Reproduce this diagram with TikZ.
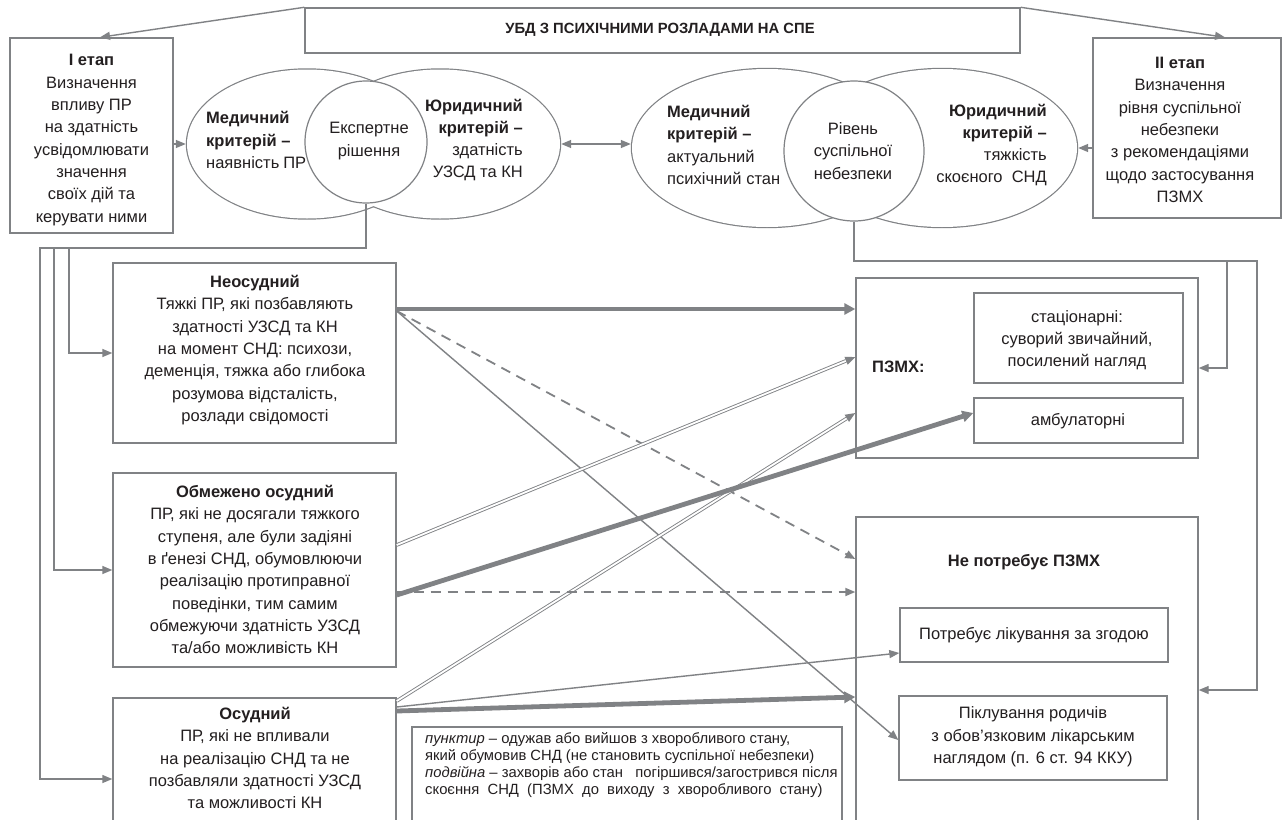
\documentclass[tikz,border=0pt]{standalone}
\usepackage{fontspec}
\setmainfont{Liberation Sans}
\usetikzlibrary{arrows.meta,calc,shapes.geometric}
\definecolor{lc}{RGB}{128,130,133}
\definecolor{tc}{RGB}{35,31,32}
\newcommand\fmain{\fontsize{16.5}{22.3}\selectfont}
\newcommand\flegend{\fontsize{14.8}{16.7}\selectfont}
\newcommand\ftitle{\fontsize{14.8}{20}\selectfont\bfseries}
\begin{document}
\begin{tikzpicture}[x=1pt,y=-1pt,
  box/.style={draw=lc, line width=1.4pt, inner sep=0pt},
  txt/.style={text=tc, font=\fmain, align=center, inner sep=0pt},
  conn/.style={draw=lc, line width=1.4pt},
  arr/.style={-{Triangle[length=10pt,width=8pt]}},
  thickarr/.style={draw=lc, line width=4.8pt, -{Triangle[length=11pt,width=11pt]}},
  dasharr/.style={draw=lc, line width=1.8pt, dash pattern=on 10pt off 7pt, -{Triangle[length=10pt,width=8pt]}},
  dbl/.style={draw=lc, line width=0.9pt, double=white, double distance=1.8pt, shorten >=10pt},
  ell/.style={shape=ellipse, draw=lc, fill=white, line width=2.4pt, inner sep=0pt},
  circ/.style={shape=circle, draw=lc, fill=white, line width=1.2pt, inner sep=0pt}
]
\fill[white] (0,0) rectangle (1284,819);
\useasboundingbox (0,0) rectangle (1284,819);

% ---- title and stage boxes
\node[box, minimum width=715pt, minimum height=45pt] (title) at (662.5,30.5) {};
\node[txt, font=\ftitle] (titlet) at (660,30) {УБД З ПСИХІЧНИМИ РОЗЛАДАМИ НА СПЕ};

\node[box, minimum width=163pt, minimum height=195pt] (ietap) at (91.5,135.5) {};
\node[txt] (ietapt) at (91.5,140) {\textbf{І етап}\\Визначення\\впливу ПР\\на здатність\\усвідомлювати\\значення\\своїх дій та\\керувати ними};

\node[box, minimum width=188pt, minimum height=180pt] (iietap) at (1187,128) {};
\node[txt] (iietapt) at (1180,130) {\textbf{ІІ етап}\\Визначення\\рівня суспільної\\небезпеки\\з рекомендаціями\\щодо застосування\\ПЗМХ};

% ---- left ellipse pair
\node[ell, minimum width=240pt, minimum height=149pt] (e1) at (307,144) {};
\node[ell, minimum width=240pt, minimum height=149pt] (e2) at (440,144) {};
\fill[white] (e1.center) ellipse [x radius=120, y radius=74.5];
\fill[white] (e2.center) ellipse [x radius=120, y radius=74.5];
\node[circ, minimum size=122pt] (eks) at (366,142) {};
\node[txt, anchor=west, align=left] (e1t) at (206,140) {\textbf{Медичний}\\\textbf{критерій –}\\наявність\hspace{4pt}ПР};
\node[txt] (ekst) at (369,141) {Експертне\\рішення};
\node[txt, anchor=east, align=right] (e2t) at (523,140) {\textbf{Юридичний}\\\textbf{критерій –}\\здатність\\УЗСД та КН};

% ---- right ellipse pair
\node[ell, minimum width=270pt, minimum height=158pt] (e3) at (767,148) {};
\node[ell, minimum width=270pt, minimum height=158pt] (e4) at (942,148) {};
\fill[white] (e3.center) ellipse [x radius=135, y radius=79];
\fill[white] (e4.center) ellipse [x radius=135, y radius=79];
\node[circ, minimum size=140pt] (riv) at (854,151) {};
\node[txt, anchor=west, align=left] (e3t) at (667,145) {\textbf{Медичний}\\\textbf{критерій –}\\актуальний\\психічний стан};
\node[txt] (rivt) at (853,151) {Рівень\\суспільної\\небезпеки};
\node[txt, anchor=east, align=right] (e4t) at (1047,145) {\textbf{Юридичний}\\\textbf{критерій –}\\тяжкість\\скоєного\ \ СНД};

% ---- left column boxes
\node[box, minimum width=283pt, minimum height=180pt] (neo) at (254.5,353) {};
\node[txt] (neot) at (255,350) {\textbf{Неосудний}\\Тяжкі ПР, які позбавляють\\здатності УЗСД та КН\\на момент СНД: психози,\\деменція, тяжка або глибока\\розумова відсталість,\\розлади свідомості};

\node[box, minimum width=283pt, minimum height=194pt] (obm) at (254.5,570) {};
\node[txt] (obmt) at (255,569.5) {\textbf{Обмежено осудний}\\ПР, які не досягали тяжкого\\ступеня, але були задіяні\\в ґенезі СНД, обумовлюючи\\реалізацію протиправної\\поведінки, тим самим\\обмежуючи здатність УЗСД\\та/або можливість КН};

\node[box, minimum width=283pt, minimum height=140pt] (osud) at (254.5,768) {};
\node[txt] (osudt) at (255,758) {\textbf{Осудний}\\ПР, які не впливали\\на реалізацію СНД та не\\позбавляли здатності УЗСД\\та можливості КН};

% ---- right column boxes
\node[box, minimum width=342pt, minimum height=180pt] (pzmh) at (1027,368) {};
\node[txt, anchor=west] (pzmht) at (872,367) {\textbf{ПЗМХ:}};
\node[box, minimum width=209pt, minimum height=90pt] (stac) at (1078.5,338) {};
\node[txt] (stact) at (1077,340) {стаціонарні:\\суворий звичайний,\\посилений нагляд};
\node[box, minimum width=209pt, minimum height=45pt] (amb) at (1078.5,420.5) {};
\node[txt] (ambt) at (1078,421) {амбулаторні};

\node[box, minimum width=342pt, minimum height=330pt] (nep) at (1027,682) {};
\node[txt] (nept) at (1024,562) {\textbf{Не потребує ПЗМХ}};
\node[box, minimum width=268pt, minimum height=54pt] (potr) at (1034,635) {};
\node[txt] (potrt) at (1034,635) {Потребує лікування за згодою};
\node[box, minimum width=268pt, minimum height=84pt] (pik) at (1033,738) {};
\node[txt] (pikt) at (1033,737) {Піклування родичів\\з обов’язковим лікарським\\наглядом (п. 6 ст. 94 ККУ)};

% ---- legend
\node[box, minimum width=430pt, minimum height=120pt] (leg) at (627,787) {};
\node[txt, font=\flegend, anchor=west, align=left] (legt) at (425,765) {\textit{пунктир} – одужав або вийшов з хворобливого стану,\\який обумовив СНД (не становить суспільної небезпеки)\\\textit{подвійна} – захворів або стан\ \ \ погіршився/загострився після\\скоєння\ \ СНД\ \ (ПЗМХ\ \ до\ \ виходу\ \ з\ \ хворобливого\ \ стану)};

% ---- top connectors
\draw[conn, arr] (title.north west) -- (ietap.north -| 100,0);
\draw[conn, arr] (title.north east) -- (iietap.north -| 1225,0);
\draw[conn, arr] (ietap.east |- e1.west) -- (e1.west);
\draw[conn, {Triangle[length=10pt,width=8pt]}-{Triangle[length=10pt,width=8pt]}] (e2.east) -- (e3.west |- e2.east);
\draw[conn, arr] (iietap.west |- e4.east) -- (e4.east);

% ---- buses
\draw[conn, arr] (eks.south) |- (40,248) |- (osud.west |- 0,779);
\draw[conn, arr] (54,248) |- (obm.west |- 0,570);
\draw[conn, arr] (69,248) |- (neo.west |- 0,353);
\draw[conn, arr] (riv.south) |- (1257,261) |- (nep.east |- 0,690);
\draw[conn, arr] (1227,261) |- (pzmh.east |- 0,368);

% ---- named end points
\coordinate (o1) at (obm.east |- 0,545);
\coordinate (p1) at (pzmh.west |- 0,357);
\coordinate (o2) at (osud.east |- 0,701);
\coordinate (p2) at (pzmh.west |- 0,413);

% ---- outcome connectors
\draw[thickarr] (neo.east |- 0,309) -- (pzmh.west |- 0,309);
\draw[dasharr] (neo.east |- 0,311) -- (nep.west |- 0,559);
\draw[conn, arr] (neo.east |- 0,311) -- (pik.west |- 0,740);
\draw[dbl] (o1) -- (p1);
\draw[conn, arr] ($(p1)!10pt!(o1)$) -- (p1);
\draw[dbl] (o2) -- (p2);
\draw[conn, arr] ($(p2)!10pt!(o2)$) -- (p2);
\draw[thickarr] (obm.east |- 0,595) -- (amb.west |- 0,413);
\draw[dasharr] (obm.east |- 0,592) -- (nep.west |- 0,592);
\draw[conn, arr] (osud.east |- 0,707) -- (potr.west |- 0,653);
\draw[thickarr] (osud.east |- 0,711) -- (nep.west |- 0,697);
\end{tikzpicture}
\end{document}
